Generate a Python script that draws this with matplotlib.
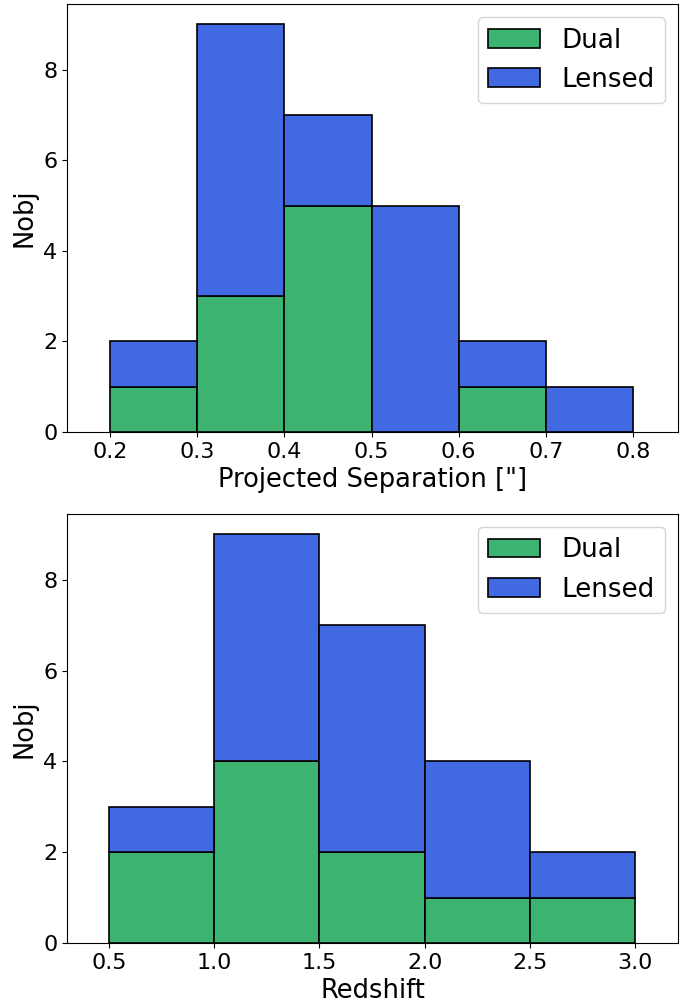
import numpy as np
import matplotlib
matplotlib.use("Agg")
import matplotlib.pyplot as plt

# projected separation histogram (arcsec)
sep_edges = [0.2, 0.3, 0.4, 0.5, 0.6, 0.7, 0.8]
sep_dual = [1, 3, 5, 0, 1, 0]
sep_lensed = [1, 6, 2, 5, 1, 1]

# redshift histogram
z_edges = [0.5, 1.0, 1.5, 2.0, 2.5, 3.0]
z_dual = [2, 4, 2, 1, 1]
z_lensed = [1, 5, 5, 3, 1]

c_dual = "mediumseagreen"
c_lensed = "royalblue"

fig = plt.figure(figsize=(6.92, 10.05), dpi=100)
ax1 = fig.add_axes([0.0968, 0.5701, 0.883, 0.4259])
ax2 = fig.add_axes([0.0968, 0.0617, 0.883, 0.4269])


def stacked(ax, edges, dual, lensed):
    edges = np.array(edges)
    left = edges[:-1]
    w = np.diff(edges)
    ax.bar(left, dual, width=w, align="edge", color=c_dual,
           edgecolor="k", linewidth=1.2, label="Dual")
    ax.bar(left, lensed, width=w, bottom=dual, align="edge", color=c_lensed,
           edgecolor="k", linewidth=1.2, label="Lensed")
    ax.set_ylim(0, 9.45)
    ax.set_yticks([0, 2, 4, 6, 8])
    ax.set_ylabel("Nobj", fontsize=18.5)
    ax.tick_params(labelsize=16)
    ax.legend(fontsize=18.8, loc="upper right")


stacked(ax1, sep_edges, sep_dual, sep_lensed)
ax1.set_xlim(0.1507, 0.8516)
ax1.set_xticks(sep_edges)
ax1.set_xlabel('Projected Separation ["]', fontsize=18.5)

stacked(ax2, z_edges, z_dual, z_lensed)
ax2.set_xlim(0.30, 3.204)
ax2.set_xticks(z_edges)
ax2.set_xlabel("Redshift", fontsize=18.5)

plt.savefig("out.png", dpi=100)
